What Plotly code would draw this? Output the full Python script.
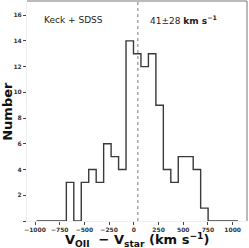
import plotly.graph_objects as go

# Histogram data (bin edges in km/s, counts per bin)
bin_edges = [-985 + 75.5 * i for i in range(28)]
counts = [0, 0, 0, 0,
          3, 0, 3, 4, 3, 6, 5, 4, 14, 13, 12, 13, 9, 4, 3, 5, 5, 4, 1,
          0, 0, 0, 0]
median_offset = 41
label_sample = "Keck + SDSS"
label_offset = "41±28 <b>km s<sup>−1</sup></b>"
x_title = "<b>V<sub>OII</sub>  − V<sub>star</sub> (km s<sup>−1</sup>)</b>"
y_title = "<b>Number</b>"
x_ticks = [-1000, -750, -500, -250, 0, 250, 500, 750, 1000]
y_ticks = [0, 2, 4, 6, 8, 10, 12, 14, 16]
y_tick_labels = ["", "2", "4", "6", "8", "10", "12", "14", "16"]

# step outline
xs = list(bin_edges)
ys = counts + [counts[-1]]

fig = go.Figure()
fig.add_trace(go.Scatter(x=xs, y=ys, mode="lines", line_shape="hv",
                         line=dict(color="#3a3a3a", width=1.4),
                         hoverinfo="skip", showlegend=False))

fig.add_shape(type="line", xref="x", yref="paper", x0=median_offset, x1=median_offset,
              y0=0, y1=1, line=dict(color="#555", width=0.8, dash="dot"))
# top and right frame
fig.add_shape(type="line", xref="paper", yref="paper", x0=0, x1=1, y0=1, y1=1,
              line=dict(color="#777", width=1))
fig.add_shape(type="line", xref="paper", yref="paper", x0=1, x1=1, y0=0, y1=1,
              line=dict(color="#777", width=1))

fig.add_annotation(x=0.07, y=0.915, xref="paper", yref="paper", text=label_sample,
                   showarrow=False, xanchor="left", yanchor="middle",
                   font=dict(family="DejaVu Sans", size=9, color="#222"))
fig.add_annotation(x=0.55, y=0.915, xref="paper", yref="paper", text=label_offset,
                   showarrow=False, xanchor="left", yanchor="middle",
                   font=dict(family="DejaVu Sans", size=9, color="#222"))

# axis titles as annotations
fig.add_annotation(x=0.5, y=-0.085, xref="paper", yref="paper", text=x_title,
                   showarrow=False, xanchor="center", yanchor="middle",
                   font=dict(family="DejaVu Sans", size=13, color="#111"))
fig.add_annotation(x=-0.092, y=0.5, xref="paper", yref="paper", text=y_title,
                   showarrow=False, xanchor="center", yanchor="middle", textangle=-90,
                   font=dict(family="DejaVu Sans", size=13, color="#111"))

fig.update_layout(
    width=249, height=248,
    margin=dict(l=27, r=2, t=1, b=27),
    paper_bgcolor="white", plot_bgcolor="white",
    font=dict(family="DejaVu Sans", color="#222"),
    xaxis=dict(range=[-1081, 1145], tickvals=x_ticks, ticks="outside", ticklen=3,
               tickwidth=1, tickcolor="#444", automargin=False,
               tickfont=dict(family="DejaVu Sans", size=6, color="#333", weight="bold"),
               showgrid=False, zeroline=False, showline=True, linecolor="#eee"),
    yaxis=dict(range=[0, 17.1], tickvals=y_ticks, ticktext=y_tick_labels,
               ticks="outside", ticklen=3, tickwidth=1, tickcolor="#444", automargin=False,
               tickfont=dict(family="DejaVu Sans", size=6, color="#333", weight="bold"),
               showgrid=False, zeroline=False, showline=True, linecolor="#eee"),
)

fig.write_html("out.html", config={"displayModeBar": False},
               post_script="document.body.style.margin='0';document.body.style.overflow='hidden';")
